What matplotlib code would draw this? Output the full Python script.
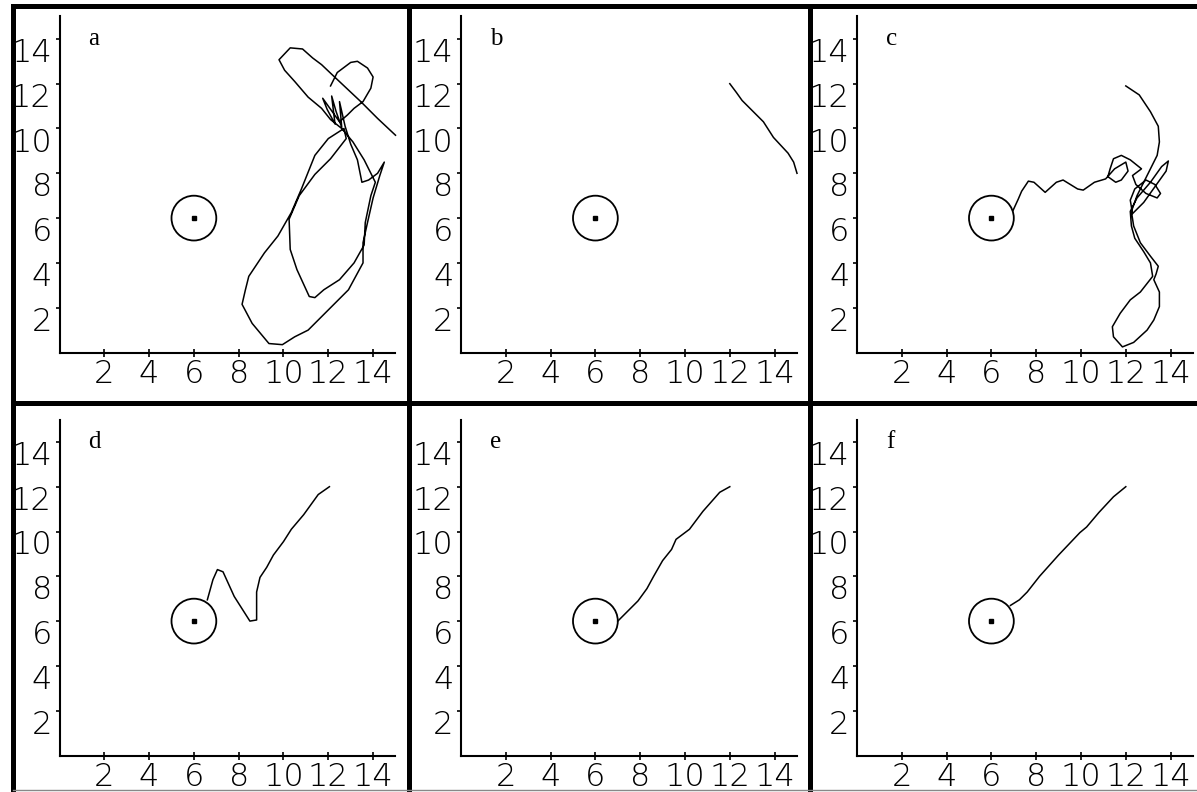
import matplotlib
matplotlib.use("Agg")
import matplotlib.pyplot as plt
from matplotlib.patches import Circle
from matplotlib.lines import Line2D
from matplotlib.transforms import ScaledTranslation

# ---------------- data ----------------
panel_labels = ["a", "b", "c", "d", "e", "f"]
tick_values = [2, 4, 6, 8, 10, 12, 14]
tick_labels = ["2", "4", "6", "8", "10", "12", "14"]
axis_max = 15
target_x = 6
target_y = 6
target_r = 1

a_x = [12.1, 12.4, 13.0, 13.3, 13.75, 14.0, 13.9, 13.55, 13.15, 12.85, 12.5,
       11.75, 11.95, 12.3, 12.15, 12.35, 12.6, 12.5, 12.75, 13.0, 13.3, 13.5,
       13.8, 14.2, 14.5,
       14.3, 14.0, 13.75, 13.55, 13.55, 12.9, 12.0, 11.1, 10.5, 9.95, 9.35, 8.6,
       8.15, 8.3, 8.45, 9.15, 9.75, 10.35, 10.8, 11.4, 12.0, 12.7, 12.8, 12.1,
       11.4, 10.7, 10.25, 10.3, 10.6, 11.15, 11.4, 11.8, 12.5, 13.15, 13.6,
       13.65, 13.9, 14.1, 13.6, 13.1, 12.6, 12.1, 11.7, 11.1, 10.5, 10.05, 9.8,
       10.3, 10.85, 11.3, 11.7, 12.1, 13.45, 14.2, 15.0]
a_y = [11.9, 12.5, 12.95, 13.0, 12.7, 12.3, 11.8, 11.2, 10.9, 10.6, 10.3,
       11.35, 10.85, 10.2, 11.45, 10.75, 10.05, 11.2, 10.1, 9.3, 8.6, 7.6,
       7.7, 8.0, 8.5,
       7.9, 6.9, 5.8, 4.9, 4.0, 2.8, 1.9, 1.0, 0.7, 0.35, 0.4, 1.3,
       2.15, 2.8, 3.4, 4.45, 5.2, 6.25, 7.3, 8.8, 9.55, 10.0, 9.55, 8.65,
       7.95, 7.0, 5.95, 4.6, 3.7, 2.5, 2.45, 2.8, 3.25, 4.0, 4.8,
       5.8, 7.0, 7.6, 8.6, 9.4, 10.0, 10.4, 10.9, 11.4, 12.1, 12.6, 13.07,
       13.6, 13.55, 13.15, 12.85, 12.47, 11.2, 10.45, 9.7]

b_x = [12.0, 12.3, 12.55, 13.0, 13.5, 13.95, 14.6, 14.85, 15.0]
b_y = [12.0, 11.6, 11.25, 10.8, 10.3, 9.6, 8.9, 8.5, 8.0]

c_x = [12.0, 12.6, 13.1, 13.45, 13.5, 13.4, 13.1, 12.8, 12.5, 12.25, 12.35,
       12.65, 13.1, 13.45, 13.35, 13.25, 13.5, 13.5, 13.25, 12.95, 12.35, 11.85,
       11.45, 11.4, 11.75, 12.2, 12.65, 13.2, 13.1, 12.8, 12.4, 12.25, 12.2,
       12.5, 13.1, 13.6, 13.9, 13.8, 13.3, 12.8, 12.3, 12.2, 12.4, 12.9, 13.3,
       13.55, 13.4, 12.9, 12.45, 12.3, 12.7, 12.2, 11.8, 11.45, 11.3, 11.2,
       11.55, 11.8, 12.1, 12.0, 11.5, 11.1, 10.6, 10.1, 9.85, 9.2, 8.9, 8.4,
       7.9, 7.65, 7.35, 7.2, 6.97]
c_y = [11.9, 11.5, 10.75, 10.1, 9.4, 8.8, 8.2, 7.6, 7.0, 6.3, 5.65,
       4.9, 4.3, 3.85, 3.5, 3.25, 2.7, 2.05, 1.45, 1.0, 0.45, 0.25,
       0.7, 1.15, 1.75, 2.35, 2.7, 3.4, 4.0, 4.5, 5.1, 5.65, 6.3,
       6.9, 7.6, 8.3, 8.55, 8.1, 7.4, 6.7, 6.2, 6.8, 7.3, 7.7, 7.5,
       7.1, 6.9, 7.1, 7.5, 7.9, 8.2, 8.6, 8.8, 8.65, 8.2, 7.85,
       7.6, 7.7, 8.1, 8.5, 8.2, 7.75, 7.6, 7.25, 7.3, 7.7, 7.6, 7.15,
       7.6, 7.65, 7.2, 6.85, 6.35]

d_x = [12.05, 11.55, 10.9, 10.35, 10.0, 9.55, 9.25, 8.95, 8.8, 8.8, 8.5,
       7.8, 7.3, 7.05, 6.85, 6.6]
d_y = [12.0, 11.65, 10.75, 10.1, 9.55, 8.95, 8.4, 7.95, 7.3, 6.05, 6.0,
       7.1, 8.2, 8.3, 7.85, 6.95]

e_x = [12.0, 11.55, 10.8, 10.2, 9.6, 9.4, 9.0, 8.6, 8.3, 7.9, 7.4, 7.0]
e_y = [12.0, 11.75, 10.9, 10.1, 9.65, 9.2, 8.7, 8.0, 7.45, 6.9, 6.4, 6.0]

f_x = [12.0, 11.45, 10.8, 10.25, 9.95, 9.0, 8.15, 7.6, 7.25, 6.85]
f_y = [12.0, 11.55, 10.85, 10.2, 9.95, 8.95, 8.0, 7.3, 6.95, 6.7]

paths = [(a_x, a_y), (b_x, b_y), (c_x, c_y), (d_x, d_y), (e_x, e_y), (f_x, f_y)]

# ---------------- layout ----------------
W, H = 1197, 792
fig = plt.figure(figsize=(W / 100, H / 100), dpi=100)
fig.patch.set_facecolor("white")

col_left = [59.5, 461, 857]
row_bottom = [352.5, 755.5]
size_px = 336

tick_font = dict(family="DejaVu Sans", size=23, weight=200)
serif = "Liberation Serif"

for i, (px, py) in enumerate(paths):
    r, c = divmod(i, 3)
    left = col_left[c] / W
    bottom = 1 - row_bottom[r] / H
    ax = fig.add_axes([left, bottom, size_px / W, size_px / H])
    ax.set_xlim(0, axis_max)
    ax.set_ylim(0, axis_max)
    for s in ["top", "right"]:
        ax.spines[s].set_visible(False)
    for s in ["left", "bottom"]:
        ax.spines[s].set_linewidth(1.5)
        ax.spines[s].set_color("black")
    ax.set_xticks(tick_values)
    ax.set_xticklabels(tick_labels, fontdict=tick_font)
    ax.set_yticks(tick_values)
    ax.set_yticklabels(tick_labels, fontdict=tick_font)
    ax.tick_params(axis="x", direction="inout", length=6, width=1.2, pad=2,
                   colors="black")
    ax.tick_params(axis="y", direction="out", length=3, width=1.2, pad=2.5,
                   colors="black")
    off = ScaledTranslation(0, -11 / 100, fig.dpi_scale_trans)
    for lab in ax.get_yticklabels():
        lab.set_transform(lab.get_transform() + off)
    ax.patch.set_alpha(0)

    ax.add_patch(Circle((target_x, target_y), target_r, fill=False,
                        lw=1.3, ec="black"))
    ax.plot([target_x], [target_y], marker="s", ms=2.6, color="black", lw=0)
    ax.plot(px, py, color="black", lw=1.1, solid_joinstyle="round",
            clip_on=False)
    ax.text(1.3, 13.72, panel_labels[i], fontfamily=serif, fontsize=18,
            va="baseline", ha="left")


# ---------------- frame lines ----------------
def fline(x0, y0, x1, y1, lw, color="black"):
    fig.add_artist(Line2D([x0 / W, x1 / W], [1 - y0 / H, 1 - y1 / H],
                          transform=fig.transFigure, lw=lw, color=color,
                          solid_capstyle="projecting"))

fline(12.5, 5.5, W + 5, 5.5, 3.6)
fline(12.5, 5.5, 12.5, H + 5, 3.6)
fline(12.5, 402.5, W + 5, 402.5, 3.6)
fline(409, 5.5, 409, H + 5, 3.6)
fline(810, 5.5, 810, H + 5, 3.6)
fline(12.5, 790, W + 5, 790, 1.0, color="#888888")

fig.savefig("out.png", dpi=100, facecolor="white")
